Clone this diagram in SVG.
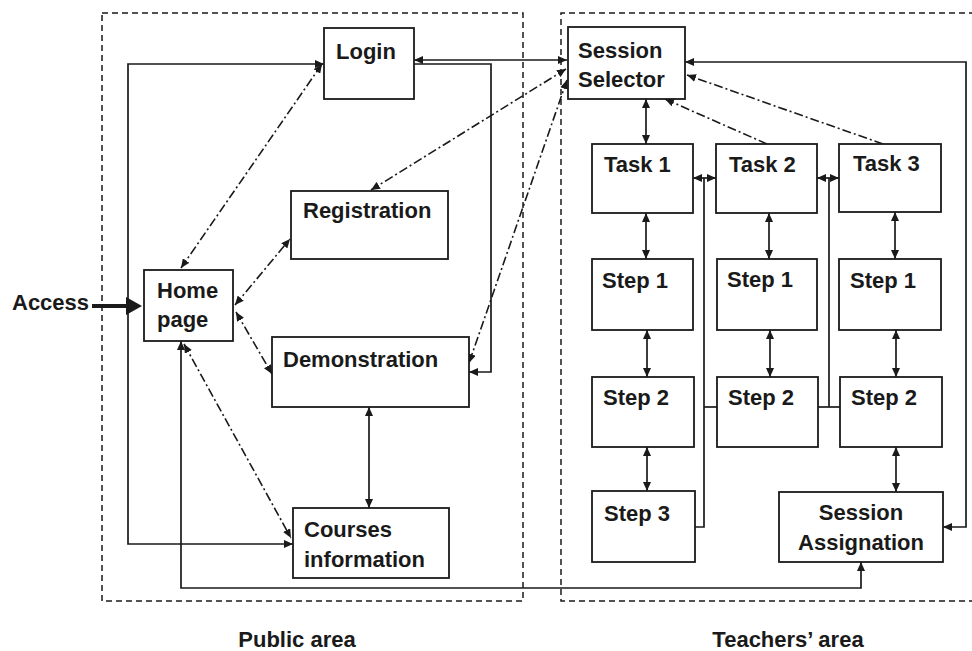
<svg xmlns="http://www.w3.org/2000/svg" width="972" height="651" viewBox="0 0 972 651">
  <defs>
    <style>
      .box { fill: #ffffff; stroke: #1a1a1a; stroke-width: 1.8; }
      .area { fill: none; stroke: #1a1a1a; stroke-width: 1.5; stroke-dasharray: 6 4; }
      .lbl { font-family: "Liberation Sans", Arial, sans-serif; font-weight: bold; font-size: 22px; fill: #1a1a1a; }
      .mid { text-anchor: middle; }
      .solid { fill: none; stroke: #1a1a1a; stroke-width: 1.7; }
      .dd { fill: none; stroke: #1a1a1a; stroke-width: 1.6; stroke-dasharray: 9 3 2 3; }
      .two { marker-start: url(#ah); marker-end: url(#ah); }
      .one { marker-end: url(#ah); }
    </style>
    <marker id="ah" markerUnits="userSpaceOnUse" markerWidth="10" markerHeight="8" refX="9" refY="4" orient="auto-start-reverse">
      <path d="M0,0 L9,4 L0,8 z" fill="#1a1a1a"/>
    </marker>
  </defs>

  <rect width="972" height="651" fill="#ffffff"/>

  <!-- area frames -->
  <rect class="area" x="102" y="13" width="421" height="588"/>
  <path class="area" d="M975,13 H561 V601 H975"/>
  <text class="lbl mid" x="297" y="647">Public area</text>
  <text class="lbl mid" x="788" y="647">Teachers’ area</text>

  <!-- connectors -->
  <g id="connectors">
    <!-- entry arrow -->
    <line x1="92" y1="306" x2="128" y2="306" stroke="#1a1a1a" stroke-width="4"/>
    <polygon points="126,297 142,306 126,315" fill="#1a1a1a"/>

    <!-- public area -->
    <path class="solid two" d="M293,544 H128 V64 H324"/>
    <path class="solid two" d="M181,341 V588 H861 V562"/>
    <path class="solid two" d="M567,60 H414"/>
    <path class="solid one" d="M414,64 H491 V372 H469"/>
    <path class="dd two" d="M566,69 L371,190"/>
    <path class="dd two" d="M567,80 L469,363"/>
    <path class="dd two" d="M181,268 L322,64"/>
    <path class="dd two" d="M235,305 L290,239"/>
    <path class="dd two" d="M236,312 L272,374"/>
    <path class="dd two" d="M184,344 L291,538"/>
    <path class="solid two" d="M369,407 V508"/>

    <!-- teachers' area -->
    <path class="solid two" d="M646,99 V144"/>
    <path class="dd one" d="M767,144 L665,99"/>
    <path class="dd one" d="M883,144 L687,75"/>
    <path class="solid two" d="M943,527 H966 V62 H685"/>
    <path class="solid two" d="M693,178 H716"/>
    <path class="solid" d="M704,178 V527 H695"/>
    <path class="solid" d="M704,407 H717"/>
    <path class="solid two" d="M817,178 H839"/>
    <path class="solid" d="M829,178 V407"/>
    <path class="solid" d="M818,407 H840"/>
    <path class="solid two" d="M646,213 V259"/>
    <path class="solid two" d="M769,213 V259"/>
    <path class="solid two" d="M895,212 V259"/>
    <path class="solid two" d="M647,330 V377"/>
    <path class="solid two" d="M770,330 V377"/>
    <path class="solid two" d="M896,330 V377"/>
    <path class="solid two" d="M647,447 V491"/>
    <path class="solid two" d="M896,447 V492"/>
  </g>

  <text class="lbl" x="12" y="310">Access</text>

  <!-- public area nodes -->
  <g id="login">
    <rect class="box" x="324" y="28" width="90" height="71"/>
    <text class="lbl" x="336" y="59">Login</text>
  </g>
  <g id="registration">
    <rect class="box" x="291" y="191" width="157" height="68"/>
    <text class="lbl" x="303" y="218">Registration</text>
  </g>
  <g id="home-page">
    <rect class="box" x="144" y="270" width="89" height="71"/>
    <text class="lbl" x="157" y="298">Home</text>
    <text class="lbl" x="157" y="327">page</text>
  </g>
  <g id="demonstration">
    <rect class="box" x="272" y="337" width="197" height="70"/>
    <text class="lbl" x="283" y="367">Demonstration</text>
  </g>
  <g id="courses-information">
    <rect class="box" x="293" y="508" width="156" height="70"/>
    <text class="lbl" x="304" y="537">Courses</text>
    <text class="lbl" x="304" y="567">information</text>
  </g>

  <!-- teachers' area nodes -->
  <g id="session-selector">
    <rect class="box" x="568" y="27" width="117" height="72"/>
    <text class="lbl" x="578" y="58">Session</text>
    <text class="lbl" x="578" y="87">Selector</text>
  </g>
  <g id="task-1">
    <rect class="box" x="592" y="144" width="101" height="69"/>
    <text class="lbl" x="604" y="172">Task 1</text>
  </g>
  <g id="task-2">
    <rect class="box" x="716" y="144" width="101" height="69"/>
    <text class="lbl" x="729" y="172">Task 2</text>
  </g>
  <g id="task-3">
    <rect class="box" x="839" y="144" width="102" height="68"/>
    <text class="lbl" x="853" y="171">Task 3</text>
  </g>
  <g id="task-1-step-1">
    <rect class="box" x="592" y="259" width="101" height="71"/>
    <text class="lbl" x="602" y="288">Step 1</text>
  </g>
  <g id="task-2-step-1">
    <rect class="box" x="717" y="259" width="100" height="71"/>
    <text class="lbl" x="727" y="287">Step 1</text>
  </g>
  <g id="task-3-step-1">
    <rect class="box" x="839" y="259" width="102" height="71"/>
    <text class="lbl" x="850" y="288">Step 1</text>
  </g>
  <g id="task-1-step-2">
    <rect class="box" x="592" y="377" width="102" height="70"/>
    <text class="lbl" x="603" y="405">Step 2</text>
  </g>
  <g id="task-2-step-2">
    <rect class="box" x="717" y="377" width="101" height="70"/>
    <text class="lbl" x="728" y="405">Step 2</text>
  </g>
  <g id="task-3-step-2">
    <rect class="box" x="840" y="377" width="102" height="70"/>
    <text class="lbl" x="851" y="405">Step 2</text>
  </g>
  <g id="task-1-step-3">
    <rect class="box" x="592" y="491" width="103" height="71"/>
    <text class="lbl" x="604" y="521">Step 3</text>
  </g>
  <g id="session-assignation">
    <rect class="box" x="779" y="492" width="164" height="70"/>
    <text class="lbl mid" x="861" y="520">Session</text>
    <text class="lbl mid" x="861" y="550">Assignation</text>
  </g>
</svg>
